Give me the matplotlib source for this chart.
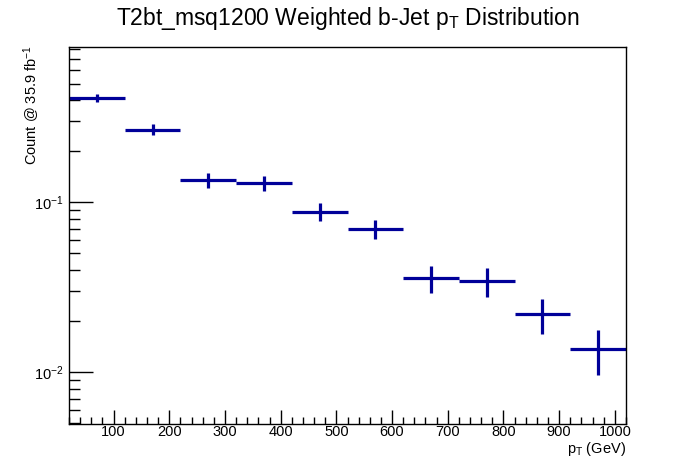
import matplotlib
matplotlib.use("Agg")
import matplotlib.pyplot as plt
from matplotlib.ticker import LogLocator, MultipleLocator, NullFormatter, FuncFormatter
import numpy as np

plt.rcParams['font.family'] = ['Liberation Sans', 'DejaVu Sans']
plt.rcParams['mathtext.fontset'] = 'custom'
plt.rcParams['mathtext.rm'] = 'Liberation Sans'
plt.rcParams['mathtext.it'] = 'Liberation Sans:italic'
plt.rcParams['mathtext.bf'] = 'Liberation Sans:bold'

bin_edges = [20, 120, 220, 320, 420, 520, 620, 720, 820, 920, 1020]
counts = [0.411, 0.268, 0.1355, 0.130, 0.0878, 0.0697, 0.0358, 0.0343, 0.0219, 0.01374]
errors = [0.024, 0.020, 0.014, 0.013, 0.0107, 0.0092, 0.0066, 0.0065, 0.0051, 0.0041]

title = r"T2bt_msq1200 Weighted b-Jet p$_\mathrm{T}$ Distribution"
xlabel = r"p$_\mathrm{T}$ (GeV)"
ylabel = r"Count @ 35.9 fb$^\mathrm{-1}$"

edges = np.array(bin_edges, dtype=float)
centers = 0.5 * (edges[:-1] + edges[1:])
halfw = 0.5 * (edges[1:] - edges[:-1])

fig = plt.figure(figsize=(6.96, 4.72), dpi=100)
ax = fig.add_axes([69/696, 1 - 424/472, (626-69)/696, (424-47)/472])

ax.errorbar(centers, counts, xerr=halfw, yerr=errors, fmt='none',
            ecolor='#000099', elinewidth=2.3, capsize=0)

ax.set_yscale('log')
ax.set_xlim(20, 1020)
ax.set_ylim(0.00496, 0.82)

ax.xaxis.set_major_locator(MultipleLocator(100))
ax.xaxis.set_minor_locator(MultipleLocator(20))
ax.yaxis.set_major_locator(LogLocator(base=10, numticks=10))
ax.yaxis.set_minor_locator(LogLocator(base=10, subs=np.arange(2, 10), numticks=20))
ax.yaxis.set_minor_formatter(NullFormatter())

def yfmt(v, pos):
    e = int(round(np.log10(v)))
    return r"$10^{%d}$" % e
ax.yaxis.set_major_formatter(FuncFormatter(yfmt))

ax.tick_params(axis='x', which='major', direction='in', length=10, width=1, labelsize=10.5, pad=1, top=False)
ax.tick_params(axis='x', which='minor', direction='in', length=5, width=1, top=False)
ax.tick_params(axis='y', which='major', direction='in', length=17, width=1, labelsize=10.5, pad=4, right=False)
ax.tick_params(axis='y', which='minor', direction='in', length=8, width=1, right=False)
for s in ax.spines.values():
    s.set_linewidth(1)
    s.set_color('black')

fig.text(0.5, 1 - 19/472, title, ha='center', va='center', fontsize=16.5)
fig.text(626/696, 1 - 449/472, xlabel, ha='right', va='center', fontsize=10.5)
fig.text(32/696, 1 - 45/472, ylabel, ha='center', va='top', rotation=90, fontsize=10.5)

fig.savefig('out.png', dpi=100)
